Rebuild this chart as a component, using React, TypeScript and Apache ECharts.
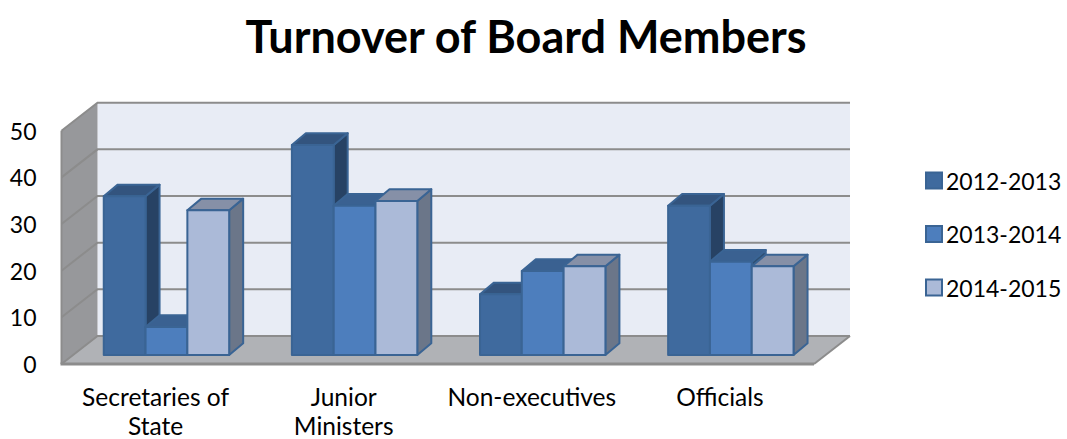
import React, { useEffect, useRef } from "react";
import * as echarts from "echarts";

const titleText = "Turnover of Board Members";
const categories = ["Secretaries of\nState", "Junior\nMinisters", "Non-executives", "Officials"];
const yTicks = [0, 10, 20, 30, 40, 50];
const seriesNames = ["2012-2013", "2013-2014", "2014-2015"];
const values2012 = [34, 45, 13, 32];
const values2013 = [6, 32, 18, 20];
const values2014 = [31, 33, 19, 19];

const FONT = "Lato, Carlito, sans-serif";
const WALL_DX = 36;
const WALL_DY = 28;
const BAR_DX = 14;
const BAR_DY = 11.7;
const BAR_OFF_X = 10.9;
const BAR_OFF_Y = 9;
const GRID_COLOR = "#8C8C8C";

const palettes = [
  { front: "#3F6A9E", side: "#274264", top: "#33547E", border: "#3A6494" },
  { front: "#4D7EBD", side: "#2F5073", top: "#3A6191", border: "#3A6494" },
  { front: "#ABBAD8", side: "#6B7689", top: "#8690A7", border: "#3A6494" },
];

function wallItem(params: any, api: any) {
  const c = params.coordSys;
  const l = c.x, r = c.x + c.width, t = c.y, b = c.y + c.height;
  return {
    type: "group",
    children: [
      { type: "polygon", shape: { points: [[l + WALL_DX, t - WALL_DY], [r + WALL_DX, t - WALL_DY], [r + WALL_DX, b - WALL_DY], [l + WALL_DX, b - WALL_DY]] }, style: { fill: "#E8ECF5" } },
      { type: "polygon", shape: { points: [[l, t], [l + WALL_DX, t - WALL_DY], [l + WALL_DX, b - WALL_DY], [l, b]] }, style: { fill: "#97989B" } },
      { type: "polygon", shape: { points: [[l, b], [l + WALL_DX, b - WALL_DY], [r + WALL_DX, b - WALL_DY], [r, b]] }, style: { fill: "#B0B2B6" } },
    ],
  };
}

function tickItem(params: any, api: any) {
  const c = params.coordSys;
  const l = c.x, r = c.x + c.width;
  const y = api.coord([0, api.value(1)])[1];
  const style = { stroke: GRID_COLOR, lineWidth: 2, fill: "none" };
  const lines: any[] = [
    { type: "polyline", shape: { points: [[l, y], [l + WALL_DX, y - WALL_DY], [r + WALL_DX, y - WALL_DY]] }, style },
  ];
  if (api.value(1) === 0) {
    lines.push({ type: "line", shape: { x1: l - 1, y1: y, x2: r, y2: y }, style: { stroke: GRID_COLOR, lineWidth: 3 } });
    lines.push({ type: "line", shape: { x1: r, y1: y, x2: r + WALL_DX, y2: y - WALL_DY }, style });
    lines.push({ type: "line", shape: { x1: l, y1: y, x2: l, y2: api.coord([0, 50])[1] }, style });
  }
  return { type: "group", children: lines };
}

function barRenderer(seriesIndex: number) {
  const p = palettes[seriesIndex];
  return (params: any, api: any) => {
    const band = api.size([1, 0])[0];
    const w = band / 4.5;
    const base = api.coord([api.value(0), 0]);
    const top = api.coord([api.value(0), api.value(1)]);
    const x0 = base[0] - 1.5 * w + seriesIndex * w + BAR_OFF_X;
    const x1 = x0 + w;
    const y0 = base[1] - BAR_OFF_Y;
    const y1 = top[1] - BAR_OFF_Y;
    const edge = { stroke: p.border, lineWidth: 2, lineJoin: "round" };
    return {
      type: "group",
      children: [
        { type: "polygon", shape: { points: [[x1, y0], [x1 + BAR_DX, y0 - BAR_DY], [x1 + BAR_DX, y1 - BAR_DY], [x1, y1]] }, style: { fill: p.side, ...edge } },
        { type: "polygon", shape: { points: [[x0, y1], [x0 + BAR_DX, y1 - BAR_DY], [x1 + BAR_DX, y1 - BAR_DY], [x1, y1]] }, style: { fill: p.top, ...edge } },
        { type: "rect", shape: { x: x0, y: y1, width: w, height: y0 - y1 }, style: { fill: p.front, ...edge } },
      ],
    };
  };
}

export default function App() {
  const ref = useRef<HTMLDivElement>(null);
  useEffect(() => {
    document.body.style.margin = "0";
    const chart = echarts.init(ref.current!, undefined, { renderer: "svg" });
    const rows = [values2012, values2013, values2014];
    chart.setOption({
      animation: false,
      backgroundColor: "#FFFFFF",
      title: {
        text: titleText,
        left: 521,
        top: 8,
        textAlign: "center",
        textStyle: { fontFamily: FONT, fontWeight: "bold", fontSize: 45, color: "#000000" },
      },
      legend: {
        data: seriesNames,
        orient: "vertical",
        left: 920,
        top: 164,
        itemWidth: 16,
        itemHeight: 16,
        itemGap: 30.5,
        icon: "rect",
        textStyle: { fontFamily: FONT, fontSize: 23, color: "#000000", padding: [0, 0, 0, -1] },
      },
      grid: { left: 61.5, right: 253, top: 130.67, bottom: 75, outerBoundsMode: "none" },
      xAxis: {
        type: "category",
        data: categories,
        axisLine: { show: false },
        axisTick: { show: false },
        axisLabel: { interval: 0, fontFamily: FONT, fontSize: 24.5, lineHeight: 29, color: "#000000", margin: 18 },
      },
      yAxis: {
        type: "value",
        min: 0,
        max: 50,
        interval: 10,
        axisLine: { show: false },
        axisTick: { show: false },
        splitLine: { show: false },
        axisLabel: { fontFamily: FONT, fontSize: 23, color: "#000000", margin: 25 },
      },
      series: [
        { type: "custom", name: "walls", coordinateSystem: "cartesian2d", clip: false, silent: true, renderItem: wallItem, data: [[0, 0]], encode: { x: 0, y: 1 }, z: 1 },
        { type: "custom", name: "gridlines", coordinateSystem: "cartesian2d", clip: false, silent: true, renderItem: tickItem, data: yTicks.map((t) => [0, t]), encode: { x: 0, y: 1 }, z: 2 },
        ...seriesNames.map((name, i) => ({
          type: "custom",
          name,
          coordinateSystem: "cartesian2d",
          clip: false,
          renderItem: barRenderer(i),
          data: rows[i].map((v, k) => [k, v]),
          encode: { x: 0, y: 1 },
          itemStyle: { color: palettes[i].front, borderColor: palettes[i].border, borderWidth: 2 },
          z: 3,
        })),
      ],
    });
    return () => chart.dispose();
  }, []);
  return <div ref={ref} style={{ position: "absolute", left: 0, top: 0, width: 1067, height: 439 }} />;
}
